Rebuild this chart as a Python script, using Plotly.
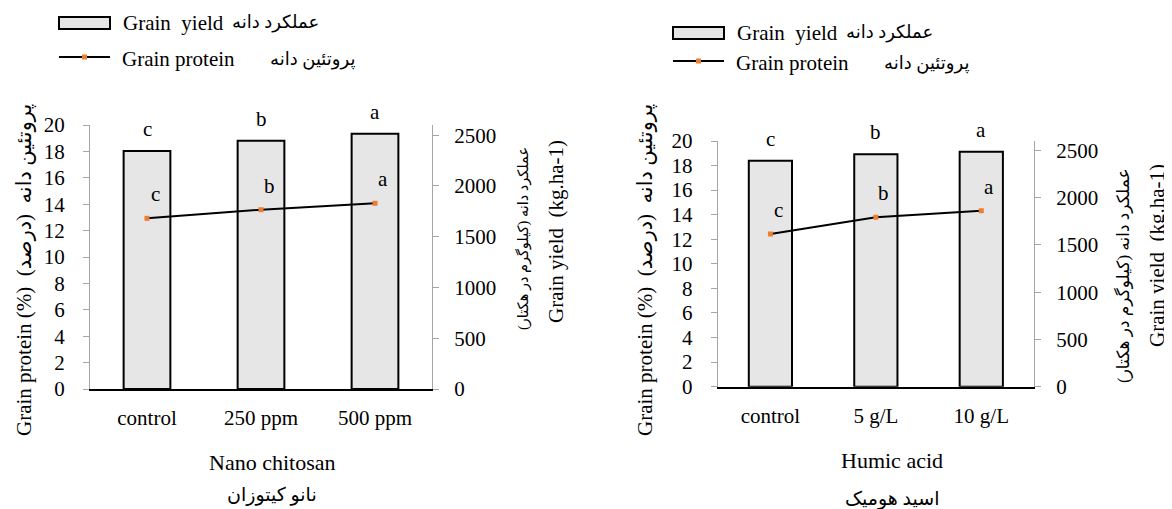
import plotly.graph_objects as go

# ---------------- data ----------------
categories_chitosan = ["control", "250 ppm", "500 ppm"]
yield_chitosan = [2345, 2445, 2515]
protein_chitosan = [12.93, 13.58, 14.07]
yield_letters_chitosan = ["c", "b", "a"]
protein_letters_chitosan = ["c", "b", "a"]

categories_humic = ["control", "5 g/L", "10 g/L"]
yield_humic = [2390, 2460, 2485]
protein_humic = [12.43, 13.79, 14.33]
yield_letters_humic = ["c", "b", "a"]
protein_letters_humic = ["c", "b", "a"]

yield_ticks = [0, 500, 1000, 1500, 2000, 2500]

# ---------------- style ----------------
W, H = 1172, 509
OFF = 8  # page body margin compensation
SERIF = "Liberation Serif"
FA = "Liberation Serif, DejaVu Sans, serif"
BAR_FILL = "#e6e6e6"
ORANGE = "#ed7d31"
AXIS_GRAY = "#a6a6a6"
FS = 21


def px(x):
    return (x - OFF) / W


def py(y):
    return 1 - (y - OFF) / H


fig = go.Figure()

fig.add_trace(go.Bar(x=categories_chitosan, y=yield_chitosan, xaxis="x", yaxis="y",
                     marker=dict(color=BAR_FILL, line=dict(color="black", width=2)),
                     showlegend=False, name="Grain yield"))
fig.add_trace(go.Scatter(x=categories_chitosan, y=protein_chitosan, xaxis="x", yaxis="y2",
                         mode="lines+markers",
                         line=dict(color="black", width=2),
                         marker=dict(symbol="square", size=5, color=ORANGE),
                         showlegend=False, name="Grain protein"))
fig.add_trace(go.Bar(x=categories_humic, y=yield_humic, xaxis="x2", yaxis="y3",
                     marker=dict(color=BAR_FILL, line=dict(color="black", width=2)),
                     showlegend=False, name="Grain yield"))
fig.add_trace(go.Scatter(x=categories_humic, y=protein_humic, xaxis="x2", yaxis="y4",
                         mode="lines+markers",
                         line=dict(color="black", width=2),
                         marker=dict(symbol="square", size=5, color=ORANGE),
                         showlegend=False, name="Grain protein"))

xcommon = dict(showline=True, linecolor="black", linewidth=2, ticks="",
               showgrid=False, zeroline=False, automargin=False,
               tickfont=dict(family=SERIF, size=FS, color="black"),
               ticklabelstandoff=9)
ycommon = dict(showline=True, linecolor=AXIS_GRAY, linewidth=1, ticks="outside",
               ticklen=6, tickcolor=AXIS_GRAY, showgrid=False, zeroline=False, automargin=False,
               tickfont=dict(family=SERIF, size=FS, color="black"))

fig.update_layout(
    width=W, height=H,
    margin=dict(l=0, r=0, t=0, b=0, pad=0, autoexpand=False),
    paper_bgcolor="white", plot_bgcolor="white",
    bargap=0.59,
    font=dict(family=SERIF, size=FS, color="black"),
    xaxis=dict(domain=[px(90), px(432)], anchor="y", **xcommon),
    yaxis=dict(domain=[py(389), py(125)], anchor="x", side="right",
               range=[0, 2600], tickvals=yield_ticks, ticklabelstandoff=11, **ycommon),
    yaxis2=dict(overlaying="y", anchor="x", side="left", range=[0, 20], dtick=2,
                ticklabelstandoff=14, **ycommon),
    xaxis2=dict(domain=[px(717.7), px(1034)], anchor="y3", **xcommon),
    yaxis3=dict(domain=[py(386.7), py(141)], anchor="x2", side="right",
                range=[0, 2600], tickvals=yield_ticks, ticklabelstandoff=11, **ycommon),
    yaxis4=dict(overlaying="y3", anchor="x2", side="left", range=[0, 20], dtick=2,
                ticklabelstandoff=14, **ycommon),
)

ann = []
for cats, ys, lets, xr, yr in [(categories_chitosan, yield_chitosan, yield_letters_chitosan, "x", "y"),
                               (categories_humic, yield_humic, yield_letters_humic, "x2", "y3")]:
    for c, v, l in zip(cats, ys, lets):
        ann.append(dict(x=c, y=v, xref=xr, yref=yr, text=l, showarrow=False,
                        yshift=22, font=dict(family=SERIF, size=FS)))
for cats, ys, lets, xr, yr in [(categories_chitosan, protein_chitosan, protein_letters_chitosan, "x", "y2"),
                               (categories_humic, protein_humic, protein_letters_humic, "x2", "y4")]:
    for c, v, l in zip(cats, ys, lets):
        ann.append(dict(x=c, y=v, xref=xr, yref=yr, text=l, showarrow=False,
                        xshift=8, yshift=24, font=dict(family=SERIF, size=FS)))


def text(x, y, t, size=FS, angle=0, xanchor="center", fam=SERIF):
    ann.append(dict(x=px(x), y=py(y), xref="paper", yref="paper", text=t, showarrow=False,
                    textangle=angle, xanchor=xanchor, yanchor="middle",
                    font=dict(family=fam, size=size, color="black")))


left_title = "Grain protein (%)  پروتئین دانه  (درصد)"
right_title_fa = "عملکرد دانه (کیلوگرم در هکتار)"
right_title_en = "Grain yield  (kg.ha-1)"

# panel 1 axis titles
text(24, 270, left_title, angle=-90, fam=FA)
text(523, 239, right_title_fa, size=14.5, angle=-90, fam=FA)
text(556, 232, right_title_en, angle=-90)
text(272, 462, "Nano chitosan", size=22)
text(272, 495, "نانو کیتوزان", size=19, fam=FA)
# panel 2 axis titles
text(645, 270, left_title, angle=-90, fam=FA)
text(1123, 276, right_title_fa, size=17, angle=-90, fam=FA)
text(1157, 256, right_title_en, angle=-90)
text(892, 460, "Humic acid", size=22)
text(892, 499, "اسید هومیک", size=19, fam=FA)

# legends (drawn as decoration)
shapes = []
for (x0, yr1, yr2) in [(59, 23, 57), (673, 33, 61)]:
    shapes.append(dict(type="rect", xref="paper", yref="paper", x0=px(x0), x1=px(x0 + 51),
                       y0=py(yr1 + 6), y1=py(yr1 - 6), fillcolor=BAR_FILL,
                       line=dict(color="black", width=2)))
    shapes.append(dict(type="line", xref="paper", yref="paper", x0=px(x0), x1=px(x0 + 51),
                       y0=py(yr2), y1=py(yr2), line=dict(color="black", width=2)))
    shapes.append(dict(type="rect", xref="paper", yref="paper", x0=px(x0 + 23), x1=px(x0 + 28),
                       y0=py(yr2 + 2.5), y1=py(yr2 - 2.5), fillcolor=ORANGE,
                       line=dict(color=ORANGE, width=0)))
    text(x0 + 62, yr1, "Grain  yield", xanchor="left")
    text(x0 + 171, yr1, "عملکرد دانه", size=18, xanchor="left", fam=FA)
    text(x0 + 61, yr2 + 2, "Grain protein", xanchor="left")
    text(x0 + 209, yr2 + 3, "پروتئین دانه", size=18, xanchor="left", fam=FA)

fig.update_layout(annotations=ann, shapes=shapes)
fig.write_html("out.html")
